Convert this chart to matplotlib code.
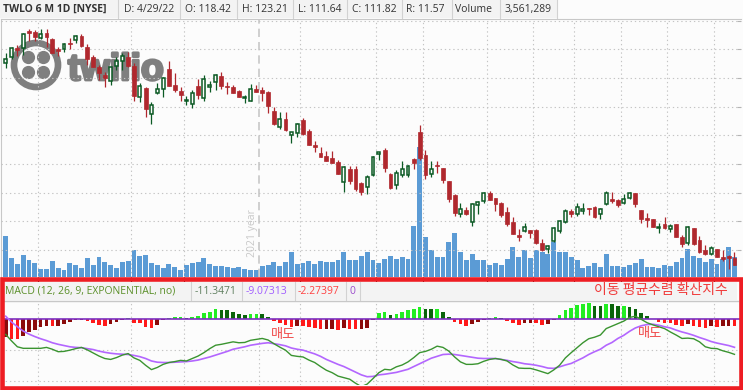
import matplotlib.pyplot as plt
import matplotlib.patches as mpatches
import matplotlib.patheffects as pe
import numpy as np

# ---------- données (TWLO, 6 mois, journalier) ----------
opens = [288.4, 293.0, 300.9, 300.9, 316.0, 314.8, 309.6, 314.0, 309.0, 300.3,
         300.0, 305.8, 308.2, 311.6, 302.3, 293.6, 284.9, 277.6, 272.7, 285.8,
         289.8, 293.6, 285.5, 258.7, 266.3, 243.9, 261.6, 265.1, 282.6, 268.9,
         264.0, 255.2, 252.1, 268.0, 257.9, 267.5, 271.8, 277.1, 268.0, 267.2,
         263.7, 257.3, 255.2, 265.4, 264.6, 263.1, 246.5, 232.6, 239.3, 225.3,
         227.3, 238.4, 228.8, 216.6, 209.6, 207.3, 205.5, 202.0, 184.6, 195.7,
         195.7, 183.4, 179.7, 190.4, 208.4, 212.2, 191.3, 181.4, 190.1, 190.1,
         204.1, 227.9, 207.9, 191.0, 199.1, 196.5, 185.2, 173.0, 156.1, 159.9,
         149.1, 164.0, 168.0, 174.7, 170.4, 166.0, 158.1, 149.4, 138.1, 141.3,
         142.5, 142.5, 131.1, 125.6, 132.9, 141.3, 149.7, 159.0, 156.1, 159.3,
         161.6, 162.5, 156.1, 164.8, 169.5, 168.3, 165.7, 170.1, 174.7, 159.9,
         152.9, 151.8, 144.2, 147.7, 143.0, 147.7, 136.1, 131.4, 144.2, 133.7,
         125.0, 121.2, 125.9, 118.9, 119.8, 118.42]
highs = [296.5, 302.3, 303.8, 314.6, 317.5, 316.9, 317.5, 317.5, 309.6, 301.8,
         305.2, 309.6, 312.5, 313.4, 304.4, 295.1, 286.4, 280.5, 284.9, 293.6,
         296.5, 298.0, 287.8, 270.4, 267.5, 254.4, 270.4, 276.2, 289.8, 279.1,
         267.5, 259.3, 264.6, 273.9, 277.6, 272.7, 278.5, 280.5, 271.8, 268.9,
         264.6, 260.2, 269.8, 268.9, 267.5, 263.7, 249.4, 245.1, 245.1, 228.2,
         236.1, 239.8, 230.2, 220.4, 214.6, 211.6, 211.6, 203.5, 198.3, 198.3,
         198.3, 184.6, 190.4, 207.0, 210.8, 213.7, 191.9, 194.8, 202.9, 199.1,
         205.0, 233.7, 212.2, 202.3, 202.3, 196.8, 185.5, 173.6, 165.7, 162.8,
         165.7, 167.7, 175.3, 176.5, 170.7, 167.2, 162.3, 153.5, 143.3, 148.3,
         142.7, 143.0, 134.9, 129.4, 144.8, 151.2, 160.5, 161.1, 166.3, 165.7,
         162.0, 163.4, 162.0, 176.8, 175.3, 169.5, 173.9, 175.9, 175.0, 159.9,
         157.6, 152.0, 148.3, 154.1, 147.4, 148.0, 138.1, 146.0, 144.5, 137.2,
         129.1, 128.5, 126.2, 124.7, 120.7, 123.21]
lows = [283.4, 291.3, 294.2, 295.1, 307.6, 307.6, 308.7, 302.3, 296.5, 294.2,
        298.0, 300.0, 305.8, 301.8, 286.4, 284.3, 273.3, 267.5, 268.9, 282.0,
        282.0, 284.9, 255.2, 254.4, 241.3, 234.9, 261.1, 258.7, 268.0, 263.1,
        255.2, 251.5, 248.6, 256.4, 255.2, 263.1, 264.6, 265.1, 261.1, 261.6,
        258.2, 252.9, 255.0, 262.5, 255.2, 244.2, 234.0, 230.5, 228.8, 218.0,
        223.9, 225.3, 216.3, 210.8, 205.8, 202.6, 200.6, 191.0, 175.3, 182.6,
        176.5, 173.0, 173.9, 189.8, 203.5, 192.7, 178.5, 178.5, 189.0, 188.4,
        195.4, 203.5, 186.6, 188.4, 191.9, 183.7, 167.2, 154.7, 153.5, 155.5,
        146.2, 156.1, 165.7, 168.3, 159.3, 153.5, 146.2, 138.7, 133.2, 140.7,
        135.2, 130.3, 124.4, 122.1, 132.3, 139.5, 148.3, 153.5, 154.7, 156.1,
        155.5, 152.6, 151.8, 164.3, 166.3, 162.8, 165.1, 169.2, 162.8, 148.3,
        145.4, 145.1, 140.1, 143.0, 141.0, 136.1, 128.0, 129.4, 129.4, 122.7,
        120.7, 120.7, 118.6, 115.7, 108.7, 111.64]
closes = [291.3, 300.9, 299.4, 313.4, 314.0, 311.1, 313.1, 311.1, 297.1, 298.6,
          304.4, 305.0, 311.6, 302.9, 291.3, 284.9, 279.7, 275.3, 284.3, 290.1,
          294.5, 285.5, 259.3, 268.0, 248.3, 251.2, 265.4, 274.7, 268.3, 264.6,
          260.2, 255.8, 261.6, 260.2, 273.9, 268.6, 277.6, 268.3, 267.5, 262.2,
          258.7, 258.4, 265.1, 263.1, 262.2, 250.9, 234.9, 239.3, 229.7, 227.6,
          234.9, 226.2, 216.6, 214.8, 206.1, 202.9, 201.2, 191.3, 197.4, 185.2,
          178.2, 175.9, 188.4, 205.8, 210.2, 196.8, 179.4, 191.9, 195.4, 198.3,
          201.2, 205.5, 190.4, 195.4, 198.3, 186.1, 169.5, 157.6, 160.5, 156.4,
          165.1, 166.9, 174.4, 168.9, 165.4, 155.8, 147.7, 139.3, 136.6, 144.8,
          140.1, 131.4, 125.0, 128.2, 143.9, 150.0, 159.3, 156.7, 162.8, 160.5,
          161.1, 154.1, 160.5, 174.4, 167.7, 164.3, 169.5, 174.7, 165.1, 152.0,
          151.2, 145.4, 145.1, 144.5, 146.0, 136.6, 130.5, 144.8, 130.0, 123.6,
          121.5, 127.0, 119.2, 117.2, 118.0, 111.82]
# volume en millions d'actions
volumes = [7.07, 3.39, 2.34, 3.91, 3.04, 2.51, 1.46, 1.46, 2.86, 1.64,
           1.28, 2.51, 2.16, 1.64, 3.39, 2.16, 3.56, 2.69, 2.16, 1.64,
           2.69, 2.86, 4.79, 3.74, 3.91, 2.51, 2.16, 1.64, 2.34, 1.81,
           1.28, 2.16, 2.51, 2.69, 3.39, 2.34, 1.99, 1.99, 1.81, 1.64,
           1.81, 1.46, 1.28, 1.28, 1.99, 2.16, 2.69, 1.99, 2.69, 4.44,
           2.34, 2.51, 2.86, 2.34, 2.86, 2.69, 2.69, 3.04, 4.44, 3.04,
           3.04, 3.74, 4.44, 3.04, 2.51, 3.21, 3.74, 3.21, 3.56, 3.21,
           8.82, 22.6, 6.89, 4.79, 3.56, 3.56, 6.19, 7.59, 4.44, 3.04,
           4.09, 3.04, 3.04, 2.16, 2.51, 2.16, 3.21, 5.31, 3.56, 4.79,
           3.39, 4.79, 4.44, 4.09, 6.19, 4.44, 4.44, 3.56, 3.04, 1.64,
           1.99, 2.51, 1.81, 4.09, 1.99, 1.99, 1.81, 2.16, 2.51, 3.21,
           1.81, 1.81, 1.64, 2.16, 1.99, 2.69, 3.39, 4.96, 3.74, 3.39,
           2.69, 3.21, 2.34, 3.21, 5.31, 3.56]
macd_line = [-4.9, -7.0, -8.9, -9.4, -9.4, -9.4, -9.4, -9.1, -9.7, -10.5,
             -10.4, -10.0, -9.5, -9.1, -9.9, -10.9, -11.9, -12.7, -13.0, -12.4,
             -11.6, -11.1, -12.5, -13.3, -14.9, -16.3, -15.6, -14.6, -14.0, -13.7,
             -13.3, -13.5, -12.7, -11.9, -10.8, -9.5, -8.4, -8.1, -7.7, -7.3,
             -7.6, -7.5, -6.8, -6.5, -6.2, -6.7, -7.9, -9.0, -10.0, -11.7,
             -12.0, -12.2, -13.2, -14.0, -15.3, -16.5, -17.3, -18.4, -18.9, -19.4,
             -20.7, -21.8, -21.0, -19.2, -17.3, -16.2, -16.4, -15.4, -14.8, -13.8,
             -12.4, -10.8, -10.4, -9.7, -8.7, -9.1, -10.3, -12.2, -13.8, -14.6,
             -14.6, -14.4, -13.6, -13.0, -12.7, -13.0, -13.5, -14.8, -15.8, -15.9,
             -15.9, -16.4, -17.0, -17.6, -16.4, -14.9, -12.5, -10.8, -9.2, -7.6,
             -6.3, -5.8, -5.1, -3.0, -2.2, -1.4, -0.6, 0.6, 1.0, 0.0,
             -1.1, -1.8, -2.4, -3.0, -4.1, -5.1, -6.2, -6.1, -6.3, -7.3,
             -8.9, -9.4, -9.5, -10.2, -10.7, -11.35]
signal_line = [1.0, -0.9, -2.4, -3.8, -4.8, -5.6, -6.3, -6.9, -7.6, -8.1,
               -8.5, -8.9, -9.1, -9.2, -9.5, -9.8, -10.3, -10.7, -11.0, -11.2,
               -11.3, -11.4, -11.7, -12.1, -12.7, -13.5, -13.9, -14.0, -14.0, -13.9,
               -13.8, -13.7, -13.5, -13.2, -12.7, -12.2, -11.6, -11.0, -10.4, -9.7,
               -9.3, -8.9, -8.4, -8.1, -7.8, -7.6, -7.9, -8.2, -8.6, -9.3,
               -9.7, -10.0, -10.6, -11.2, -12.0, -13.0, -13.8, -14.6, -15.3, -16.2,
               -17.1, -18.0, -18.6, -18.5, -18.0, -17.8, -17.5, -17.2, -16.7, -16.2,
               -15.3, -14.4, -13.5, -12.6, -12.0, -11.4, -11.3, -11.4, -11.7, -12.0,
               -12.3, -12.6, -12.7, -12.7, -12.7, -13.0, -13.3, -13.7, -14.0, -14.4,
               -14.6, -14.9, -15.3, -15.8, -15.9, -15.4, -14.8, -14.3, -13.4, -12.5,
               -11.4, -10.5, -9.7, -8.4, -7.5, -6.2, -5.2, -3.9, -2.8, -2.1,
               -1.7, -1.6, -1.9, -2.4, -2.8, -3.5, -4.1, -4.6, -5.2, -5.9,
               -6.5, -7.2, -7.7, -8.1, -8.5, -9.07]
macd_hist = [-5.8, -6.4, -6.5, -5.4, -4.1, -3.5, -2.5, -2.2, -2.3, -2.2,
             -1.5, -0.9, -0.2, -0.1, -0.5, -1.1, -1.7, -2.2, -1.5, -0.9,
             -0.2, 0.4, -1.1, -1.2, -2.4, -2.8, -1.8, -0.2, 0.4, 0.8,
             0.85, 0.4, 0.8, 1.1, 2.1, 2.5, 3.3, 3.0, 2.9, 2.4,
             1.7, 1.4, 1.7, 1.75, 1.7, 0.8, -0.5, -1.1, -1.7, -2.5,
             -2.2, -2.3, -2.5, -2.8, -3.1, -3.1, -3.1, -3.5, -2.8, -3.1,
             -3.2, -3.1, -2.8, -0.1, 2.2, 2.5, 1.4, 1.7, 2.5, 3.0,
             3.3, 4.0, 3.3, 3.3, 3.35, 2.5, 0.8, -0.8, -1.4, -2.2,
             -1.4, -0.8, -0.1, 0.4, 0.8, 0.4, -0.4, -1.1, -1.7, -1.1,
             -1.1, -1.2, -1.7, -1.4, -0.1, 1.4, 3.0, 3.7, 4.75, 5.1,
             5.15, 4.3, 4.3, 5.1, 5.1, 4.2, 4.25, 4.0, 3.2, 2.0,
             1.0, 0.05, -0.8, -1.1, -1.2, -1.7, -2.2, -1.4, -2.2, -2.5,
             -2.8, -2.2, -2.5, -2.2, -2.2, -2.27]

header_cells = ['TWLO 6 M 1D [NYSE]', 'D: 4/29/22', 'O: 118.42', 'H: 123.21', 'L: 111.64',
                'C: 111.82', 'R: 11.57', 'Volume', '3,561,289']
macd_cells = ['MACD (12, 26, 9, EXPONENTIAL, no)', '-11.3471', '-9.07313', '-2.27397', '0']
macd_title = '이동 평균수렴 확산지수'
sell_label = '매도'

# ---------- mise en page (pixels) ----------
W, H = 743, 390
BG = '#fcfcfc'
RED = '#b0282e'
GREEN = '#0b5a24'
plt.rcParams['font.family'] = ['Open Sans', 'DejaVu Sans']


def fx(px):
    return px / W


def fy(py):
    return 1 - py / H


fig = plt.figure(figsize=(W / 100, H / 100), dpi=100, facecolor=BG)

x = np.arange(len(closes))
o = np.array(opens)
c = np.array(closes)
h = np.array(highs)
l = np.array(lows)
xlim = (-0.806, 126.12)
grid_x = [5.5, 21.5, 30.5, 50.5, 63.5, 71.5, 82.5, 90.5, 97.5, 105.5, 113.5, 121.5]
dots = (0, (1.2, 2.6))

# ---------- panneau prix + volume ----------
pos = [fx(1), fy(277), 740 / W, 258 / H]
ax_vol = fig.add_axes(pos)
ax_vol.set_facecolor(BG)
ax_vol.bar(x, volumes, width=0.84, color='#5b9bd5', linewidth=0)
ax_vol.set_xlim(*xlim)
ax_vol.set_ylim(0, 45.0)
ax_vol.set_xticks([])
ax_vol.set_yticks([])
for side in ['right', 'bottom']:
    ax_vol.spines[side].set_visible(False)
for side in ['left', 'top']:
    ax_vol.spines[side].set_color('#c8c8c8')
ax_vol.set_zorder(0)

# logo twilio (derrière les bougies)
ax_logo = fig.add_axes([fx(0), fy(100), 190 / W, 70 / H])
ax_logo.set_xlim(0, 190)
ax_logo.set_ylim(100, 30)
ax_logo.axis('off')
ax_logo.set_zorder(0.5)
logo_gray = '#7f7f7f'
ax_logo.add_patch(mpatches.Circle((36, 65), 22.0, fill=False, edgecolor=logo_gray, linewidth=4.8))
for dx in (-7.5, 7.5):
    for dy in (-7.5, 7.5):
        ax_logo.add_patch(mpatches.Circle((36 + dx, 65 + dy), 5.9, color=logo_gray))
ax_logo.text(68, 80, 'twilio', color=logo_gray, fontsize=27, fontweight='bold',
             family=['Liberation Sans', 'DejaVu Sans'], ha='left', va='baseline',
             path_effects=[pe.withStroke(linewidth=2.0, foreground=logo_gray)])

ax = fig.add_axes(pos, sharex=ax_vol)
ax.patch.set_visible(False)
ax.set_zorder(1)
ax.set_ylim(101.5, 326.5)
for side in ['left', 'right', 'top', 'bottom']:
    ax.spines[side].set_visible(False)

up = c >= o
dn = ~up
ax.vlines(x[up], l[up], h[up], color=GREEN, linewidth=0.9, zorder=2)
ax.vlines(x[dn], l[dn], h[dn], color=RED, linewidth=0.9, zorder=2)
ax.bar(x[up], (c - o)[up], bottom=o[up], width=0.5, facecolor=BG,
       edgecolor=GREEN, linewidth=1.1, zorder=3)
ax.bar(x[dn], (o - c)[dn], bottom=c[dn], width=0.66, facecolor=RED,
       edgecolor=RED, linewidth=0.5, zorder=3)

ax.set_yticks([125, 150, 175, 200, 225, 250, 275, 300, 325])
ax.set_xticks(grid_x)
ax.yaxis.tick_right()
ax.tick_params(axis='y', direction='in', length=3, width=0.8, color='#b4b4b4',
               labelright=False, labelleft=False)
ax.tick_params(axis='x', length=0, labelbottom=False)
ax.grid(True, linestyle=dots, color='#c4c4c4', linewidth=0.8, zorder=0)
ax.axvline(43.5, color='#c8c8c8', linestyle=(0, (5, 3)), linewidth=1.2, zorder=1)
fig.text(fx(252.5), fy(233), '2021 year', rotation=90, color='#c8c8c8',
         fontsize=7.5, ha='center', va='center')

# ---------- en-tête du graphique ----------
fig.patches.append(mpatches.Rectangle((0, fy(17.5)), fx(557), 17.5 / H,
                                      transform=fig.transFigure, facecolor='#f3f3f3',
                                      edgecolor='none', zorder=0.2))
for sx in [118, 180, 237, 293, 347, 402, 452, 500, 557]:
    fig.add_artist(plt.Line2D([fx(sx), fx(sx)], [fy(0), fy(17.5)], color='#d2d2d2',
                              linewidth=0.8, transform=fig.transFigure))
for tx, txt in zip([3, 124, 185, 242, 298, 352, 406, 455, 504], header_cells):
    fig.text(fx(tx), fy(9.5), txt, color='#333333', fontsize=7.5, ha='left', va='center',
             fontweight='bold' if txt.startswith('TWLO') else 'normal')

# ---------- panneau MACD ----------
ax_m = fig.add_axes([fx(1), fy(385.3), 740 / W, 84.3 / H])
ax_m.set_facecolor(BG)
ax_m.set_xlim(*xlim)
ax_m.set_ylim(-21.38, 5.93)
for side in ['left', 'right', 'top', 'bottom']:
    ax_m.spines[side].set_visible(False)

hist_colors = []
for k, v in enumerate(macd_hist):
    p = macd_hist[k - 1] if k > 0 else v
    if v >= 0:
        hist_colors.append('#22ee22' if v > p else '#0a640a')
    else:
        hist_colors.append('#ff1a1a' if v < p else '#8b0b0b')
ax_m.bar(x, macd_hist, width=0.62, color=hist_colors, linewidth=0, zorder=2)
ax_m.axhline(0, color='#7d2fc0', linewidth=1.2, zorder=3)
ax_m.plot(x, signal_line, color='#b366ff', linewidth=1.2, zorder=4)
ax_m.plot(x, macd_line, color='#3a9430', linewidth=1.0, zorder=5)

ax_m.set_yticks([-10, -20])
ax_m.set_xticks(grid_x + [43.5])
ax_m.tick_params(length=0, labelleft=False, labelbottom=False)
ax_m.grid(True, linestyle=dots, color='#c4c4c4', linewidth=0.8, zorder=0)

ax_m.text(47.5, -4.9, sell_label, color='#f04848', fontsize=9.5, ha='center', va='center',
          family=['Noto Sans CJK KR'], zorder=6)
ax_m.text(110.5, -4.6, sell_label, color='#f04848', fontsize=9.5, ha='center', va='center',
          family=['Noto Sans CJK KR'], zorder=6)

# en-tête MACD
fig.patches.append(mpatches.Rectangle((fx(4), fy(299.5)), fx(733), 17.5 / H,
                                      transform=fig.transFigure, facecolor='#f3f3f3',
                                      edgecolor='none', zorder=0.2))
fig.add_artist(plt.Line2D([fx(4), fx(738)], [fy(300.8), fy(300.8)], color='#c8c8c8',
                          linewidth=1.0, transform=fig.transFigure))
for sx in [190.5, 241.5, 294.5, 346, 360]:
    fig.add_artist(plt.Line2D([fx(sx), fx(sx)], [fy(282), fy(299.5)], color='#d2d2d2',
                              linewidth=0.8, transform=fig.transFigure))
macd_colors = ['#5a8f29', '#5f7f5f', '#a05cff', '#ff4040', '#9c4dcc']
for tx, txt, col in zip([5, 195, 246, 298, 350], macd_cells, macd_colors):
    fig.text(fx(tx), fy(291), txt, color=col, fontsize=7.5, ha='left', va='center')
fig.text(fx(728), fy(290), macd_title, color='#f03a3a', fontsize=10, ha='right',
         va='center', family=['Noto Sans CJK KR'])

# cadre rouge autour du MACD
fig.patches.append(mpatches.Rectangle((fx(2.3), fy(387.7)), (740.7 - 2.3) / W, (387.7 - 279.3) / H,
                                      transform=fig.transFigure, fill=False,
                                      edgecolor='#ee1d23', linewidth=3.3, zorder=10))

fig.savefig('out.png', dpi=100, facecolor=fig.get_facecolor())
